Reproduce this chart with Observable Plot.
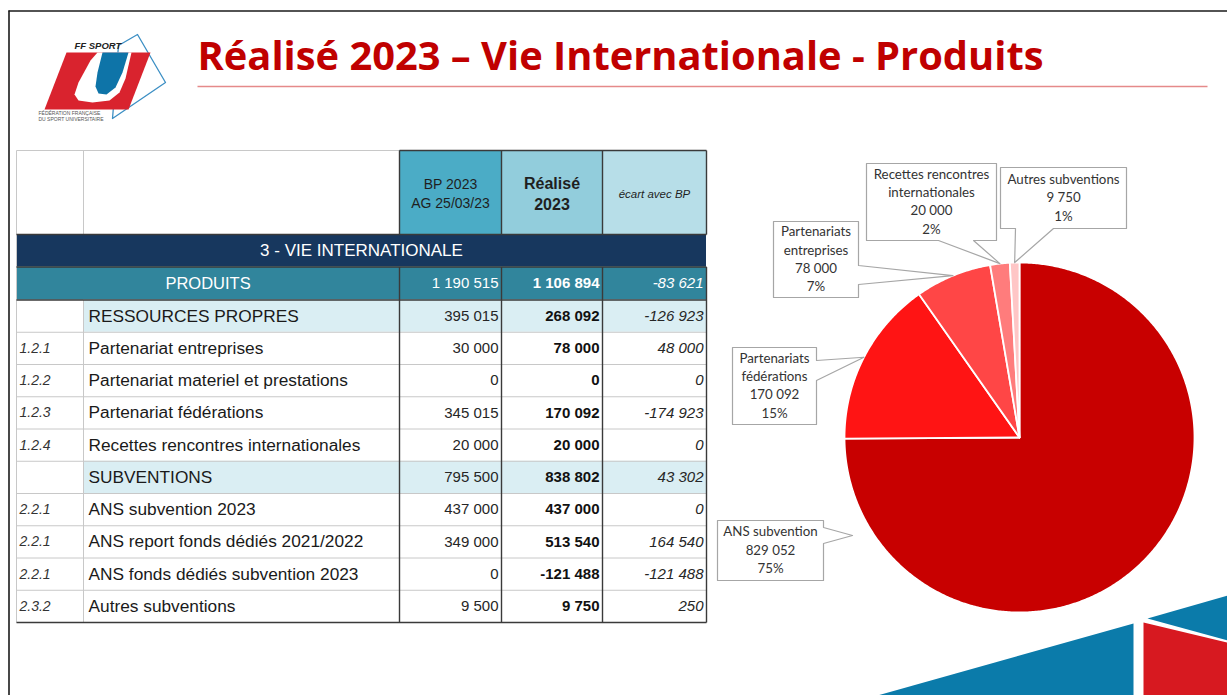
<!DOCTYPE html>
<html>
<head>
<meta charset="utf-8">
<script src="https://cdn.jsdelivr.net/npm/d3@7"></script>
<script src="https://cdn.jsdelivr.net/npm/@observablehq/plot@0.6"></script>
<style>
  html, body { margin: 0; padding: 0; background: #fff; }
  #chart svg { display: block; }
</style>
</head>
<body>
<div id="chart"></div>
<script>
// ---------------- DATA ----------------
const slideTitle = "Réalisé 2023 – Vie Internationale - Produits";
const sectionTitle = "3 - VIE INTERNATIONALE";
const totalLabel = "PRODUITS";
const headerBP = ["BP 2023", "AG 25/03/23"];
const headerRealise = ["Réalisé", "2023"];
const headerEcart = ["écart avec BP"];
const totalBP = 1190515;
const totalRealise = 1106894;
const totalEcart = -83621;

const codes = ["", "1.2.1", "1.2.2", "1.2.3", "1.2.4", "", "2.2.1", "2.2.1", "2.2.1", "2.3.2"];
const labels = ["RESSOURCES PROPRES", "Partenariat entreprises", "Partenariat materiel et prestations",
  "Partenariat fédérations", "Recettes rencontres internationales", "SUBVENTIONS",
  "ANS subvention 2023", "ANS report fonds dédiés 2021/2022", "ANS fonds dédiés subvention 2023",
  "Autres subventions"];
const isGroup = [true, false, false, false, false, true, false, false, false, false];
const bp2023 = [395015, 30000, 0, 345015, 20000, 795500, 437000, 349000, 0, 9500];
const realise2023 = [268092, 78000, 0, 170092, 20000, 838802, 437000, 513540, -121488, 9750];
const ecartBP = [-126923, 48000, 0, -174923, 0, 43302, 0, 164540, -121488, 250];

const pieLabels = [["ANS subvention"], ["Partenariats", "fédérations"], ["Partenariats", "entreprises"],
  ["Recettes rencontres", "internationales"], ["Autres subventions"]];
const pieValues = [829052, 170092, 78000, 20000, 9750];

// ---------------- STYLE / LAYOUT ----------------
const W = 1227, H = 695;
const pieColors = ["#C80000", "#FF1414", "#FF4646", "#FF7C7C", "#FFC6C6"];
const colX = [16, 83, 399, 501, 602, 706];
const yHeadTop = 150, yVie = 234, yProd = 266.5, yRows = 299.5, rowH = 32.25;
const yBottom = yRows + labels.length * rowH;
const cx = 1019, cy = 437, R = 175;
const calloutLayout = [
  {box: [717, 823, 520, 580], side: "right", base: [527, 543], tip: [852, 535]},
  {box: [732, 816, 347, 424], side: "right", base: [360, 380]},
  {box: [773, 858, 221, 297], side: "right", base: [265, 284]},
  {box: [866, 996, 163, 240], side: "bottom", base: [938, 973]},
  {box: [1000, 1126, 167, 228], side: "bottom", base: [1015, 1053]}
];
const FT = "'Liberation Sans', Arial, sans-serif";
const FN = "'Liberation Sans Narrow', 'Arial Narrow', 'Liberation Sans', sans-serif";
const FC = "Lato, 'Noto Sans', sans-serif";

const loc = d3.formatLocale({decimal: ",", thousands: "\u00a0", grouping: [3], currency: ["", " €"], minus: "-"});
const fmt = loc.format(",d");

// ---------------- TABLE GEOMETRY ----------------
const cells = [
  {x1: colX[2], x2: colX[3], y1: yHeadTop, y2: yVie, fill: "#4BACC6"},
  {x1: colX[3], x2: colX[4], y1: yHeadTop, y2: yVie, fill: "#92CDDC"},
  {x1: colX[4], x2: colX[5], y1: yHeadTop, y2: yVie, fill: "#B7DEE8"},
  {x1: colX[0], x2: colX[5], y1: yVie, y2: yProd, fill: "#17375E"},
  {x1: colX[0], x2: colX[5], y1: yProd, y2: yRows, fill: "#31859C"}
];
labels.forEach((l, i) => {
  if (isGroup[i]) cells.push({x1: colX[1], x2: colX[5], y1: yRows + i * rowH, y2: yRows + (i + 1) * rowH, fill: "#DAEEF3"});
});

const lightLines = [];
const darkLines = [];
for (let k = 1; k < labels.length; k++) lightLines.push({x1: colX[0], x2: colX[5], y1: yRows + k * rowH, y2: yRows + k * rowH});
lightLines.push({x1: colX[0], x2: colX[2], y1: yHeadTop, y2: yHeadTop});
lightLines.push({x1: colX[1], x2: colX[1], y1: yHeadTop, y2: yVie});
lightLines.push({x1: colX[1], x2: colX[1], y1: yRows, y2: yBottom});
lightLines.push({x1: colX[0], x2: colX[0], y1: yHeadTop, y2: yBottom});
darkLines.push({x1: colX[2], x2: colX[5], y1: yHeadTop, y2: yHeadTop});
[yVie, yProd, yRows, yBottom].forEach(y => darkLines.push({x1: colX[0], x2: colX[5], y1: y, y2: y}));
[2, 3, 4, 5].forEach(c => {
  darkLines.push({x1: colX[c], x2: colX[c], y1: yHeadTop, y2: yVie});
  darkLines.push({x1: colX[c], x2: colX[c], y1: yProd, y2: yBottom});
});

const rowY = i => yRows + (i + 0.5) * rowH;
const codeText = codes.map((t, i) => ({x: 19, y: rowY(i), t}));
const labelText = labels.map((t, i) => ({x: 88, y: rowY(i), t}));
const bpText = bp2023.map((v, i) => ({x: colX[3] - 3, y: rowY(i), t: fmt(v)}));
const reText = realise2023.map((v, i) => ({x: colX[4] - 3, y: rowY(i), t: fmt(v)}));
const ecText = ecartBP.map((v, i) => ({x: colX[5] - 3, y: rowY(i), t: fmt(v)}));
const yP = (yProd + yRows) / 2;

// ---------------- PIE GEOMETRY ----------------
const total = d3.sum(pieValues);
const slicePts = [];
const mids = [];
let acc = 0;
pieValues.forEach((v, i) => {
  const a0 = acc / total * 2 * Math.PI; acc += v; const a1 = acc / total * 2 * Math.PI;
  mids.push((a0 + a1) / 2);
  slicePts.push({x: cx, y: cy, id: i, fill: pieColors[i]});
  const n = Math.max(2, Math.ceil((a1 - a0) / (Math.PI / 360)));
  for (let k = 0; k <= n; k++) {
    const a = a0 + (a1 - a0) * k / n;
    slicePts.push({x: cx + R * Math.sin(a), y: cy - R * Math.cos(a), id: i, fill: pieColors[i]});
  }
});

const calloutPts = [];
const calloutText = [];
calloutLayout.forEach((c, i) => {
  const [x1, x2, y1, y2] = c.box;
  const tip = c.tip || [cx + R * Math.sin(mids[i]), cy - R * Math.cos(mids[i])];
  let pts;
  if (c.side === "right") {
    pts = [[x1, y1], [x2, y1], [x2, c.base[0]], tip, [x2, c.base[1]], [x2, y2], [x1, y2]];
  } else {
    pts = [[x1, y1], [x2, y1], [x2, y2], [c.base[1], y2], tip, [c.base[0], y2], [x1, y2]];
  }
  pts.forEach(p => calloutPts.push({x: p[0], y: p[1], id: i}));
  const lines = [...pieLabels[i], fmt(pieValues[i]), Math.round(pieValues[i] / total * 100) + "%"];
  const mx = (x1 + x2) / 2, my = (y1 + y2) / 2;
  lines.forEach((t, j) => calloutText.push({x: mx, y: my + (j - (lines.length - 1) / 2) * 18.3, t}));
});

// ---------------- DECORATION / LOGO ----------------
const decoPts = [
  ...[[877, 695], [1133, 623], [1133, 695]].map(p => ({x: p[0], y: p[1], id: "b1", fill: "#0B7BAA"})),
  ...[[1143, 622], [1227, 642], [1227, 695], [1143, 695]].map(p => ({x: p[0], y: p[1], id: "r1", fill: "#D71920"})),
  ...[[1147, 618], [1227, 595], [1227, 640]].map(p => ({x: p[0], y: p[1], id: "b2", fill: "#0B7BAA"}))
];
const logoPts = [
  ...[[66, 52], [150, 52], [128, 109], [44, 109]].map(p => ({x: p[0], y: p[1], id: "red", fill: "#D9232E"})),
  ...[[97, 52], [131, 52], [125, 78], [119, 92], [109, 100], [92, 102], [78, 100], [74, 94], [78, 82], [90, 60]].map(p => ({x: p[0], y: p[1], id: "hole", fill: "#ffffff"})),
  ...[[102, 52], [128, 52], [122, 72], [115, 87], [106, 94], [98, 93], [95, 86], [97, 72]].map(p => ({x: p[0], y: p[1], id: "blue", fill: "#0E74A8"}))
];
const logoFrame = [[118, 45], [137, 34], [165, 82], [112, 118]].map(p => ({x: p[0], y: p[1]}));

// ---------------- PLOT ----------------
const T = (data, o) => Plot.text(data, {x: "x", y: "y", text: "t", ...o});

const chart = Plot.plot({
  width: W, height: H, margin: 0,
  x: {domain: [0, W], range: [0, W], axis: null},
  y: {domain: [0, H], range: [0, H], axis: null},
  color: {type: "identity"},
  style: {background: "#fff", overflow: "visible"},
  marks: [
    // slide frame
    Plot.link([{x1: 8, x2: W, y1: 10.5, y2: 10.5}, {x1: 8.5, x2: 8.5, y1: 10, y2: H}], {x1: "x1", x2: "x2", y1: "y1", y2: "y2", stroke: "#1a1a1a", strokeWidth: 1.6}),
    // title
    T([{x: 197, y: 57, t: slideTitle}], {textAnchor: "start", fill: "#C00000", fontSize: 40, fontWeight: 700, fontFamily: "'Open Sans', sans-serif"}),
    Plot.link([{x1: 197, x2: 1207, y1: 86, y2: 86}], {x1: "x1", x2: "x2", y1: "y1", y2: "y2", stroke: "#E58A8A", strokeWidth: 1.5}),
    // logo
    Plot.line(logoFrame, {x: "x", y: "y", curve: "linear-closed", stroke: "#3C8FC4", strokeWidth: 1.3, fill: "none"}),
    Plot.line(logoPts, {x: "x", y: "y", z: "id", fill: "fill", stroke: "none", curve: "linear-closed"}),
    T([{x: 74, y: 45, t: "FF SPORT"}], {textAnchor: "start", fontSize: 9.5, fontWeight: 700, fontStyle: "italic", fill: "#222", fontFamily: FT}),
    T([{x: 38, y: 113, t: "FÉDÉRATION FRANÇAISE"}, {x: 38, y: 119, t: "DU SPORT UNIVERSITAIRE"}], {textAnchor: "start", fontSize: 5, fill: "#555", fontFamily: FN}),
    // table
    Plot.rect(cells, {x1: "x1", x2: "x2", y1: "y1", y2: "y2", fill: "fill"}),
    Plot.link(lightLines, {x1: "x1", x2: "x2", y1: "y1", y2: "y2", stroke: "#C8C8C8", strokeWidth: 1}),
    Plot.link(darkLines, {x1: "x1", x2: "x2", y1: "y1", y2: "y2", stroke: "#3A3A3A", strokeWidth: 1.4}),
    T(headerBP.map((t, j) => ({x: (colX[2] + colX[3]) / 2, y: 184 + j * 19, t})), {fontSize: 14, fill: "#1f1f1f", fontFamily: FN}),
    T(headerRealise.map((t, j) => ({x: (colX[3] + colX[4]) / 2, y: 183 + j * 21, t})), {fontSize: 16, fontWeight: 700, fill: "#1f1f1f", fontFamily: FT}),
    T(headerEcart.map(t => ({x: (colX[4] + colX[5]) / 2, y: 194, t})), {fontSize: 11.5, fontStyle: "italic", fill: "#1f1f1f", fontFamily: FN}),
    T([{x: (colX[0] + colX[5]) / 2, y: (yVie + yProd) / 2, t: sectionTitle}], {fontSize: 17, fill: "#fff", fontFamily: FT}),
    T([{x: (colX[0] + colX[2]) / 2, y: yP, t: totalLabel}], {fontSize: 16.5, fill: "#fff", fontFamily: FT}),
    T([{x: colX[3] - 3, y: yP, t: fmt(totalBP)}], {textAnchor: "end", fontSize: 15, fill: "#fff", fontFamily: FN}),
    T([{x: colX[4] - 3, y: yP, t: fmt(totalRealise)}], {textAnchor: "end", fontSize: 15, fontWeight: 700, fill: "#fff", fontFamily: FN}),
    T([{x: colX[5] - 3, y: yP, t: fmt(totalEcart)}], {textAnchor: "end", fontSize: 15, fontStyle: "italic", fill: "#fff", fontFamily: FN}),
    T(codeText, {textAnchor: "start", fontSize: 14, fontStyle: "italic", fill: "#333", fontFamily: FN}),
    T(labelText, {textAnchor: "start", fontSize: 17.3, fill: "#1a1a1a", fontFamily: FT}),
    T(bpText, {textAnchor: "end", fontSize: 15, fill: "#262626", fontFamily: FN}),
    T(reText, {textAnchor: "end", fontSize: 15, fontWeight: 700, fill: "#111", fontFamily: FN}),
    T(ecText, {textAnchor: "end", fontSize: 15, fontStyle: "italic", fill: "#262626", fontFamily: FN}),
    // pie
    Plot.line(slicePts, {x: "x", y: "y", z: "id", fill: "fill", stroke: "#fff", strokeWidth: 1.8, curve: "linear-closed"}),
    Plot.line(calloutPts, {x: "x", y: "y", z: "id", fill: "#fff", stroke: "#A6A6A6", strokeWidth: 1.2, curve: "linear-closed"}),
    T(calloutText, {fontSize: 13.3, fill: "#333", fontFamily: FC}),
    // decoration
    Plot.line(decoPts, {x: "x", y: "y", z: "id", fill: "fill", stroke: "none", curve: "linear-closed"})
  ]
});
document.getElementById("chart").appendChild(chart);

// fit title to its measured width in the reference
d3.select(chart).selectAll("text").filter(function() { return this.textContent === slideTitle; })
  .attr("textLength", 846).attr("lengthAdjust", "spacingAndGlyphs");
</script>
</body>
</html>
